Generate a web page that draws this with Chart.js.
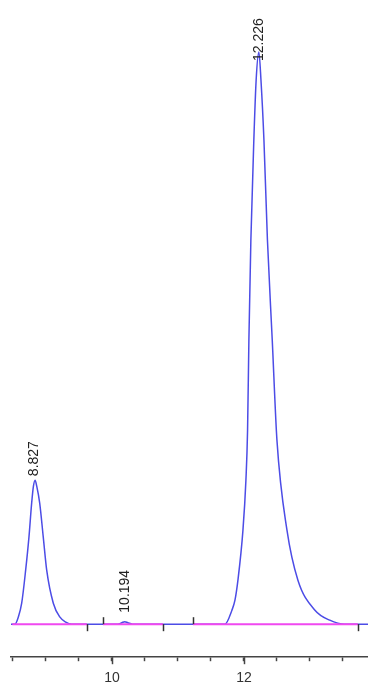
<!DOCTYPE html>
<html>
<head>
<meta charset="utf-8">
<script src="https://cdn.jsdelivr.net/npm/chart.js@4/dist/chart.umd.min.js"></script>
<style>
  html, body { margin: 0; padding: 0; background: #fff; }
  #wrap { width: 368px; height: 687px; position: relative; }
</style>
</head>
<body>
<div id="wrap"><canvas id="chromCanvas"></canvas></div>
<script>
// retention time (min) and detector signal
const times = [
  8.47, 8.53, 8.58, 8.632, 8.692, 8.742, 8.783, 8.81, 8.835, 8.86, 8.905, 8.959, 9.011, 9.111, 9.212, 9.30, 9.39,
  10.09, 10.15, 10.194, 10.24, 10.31,
  11.712, 11.818, 11.864, 11.909, 11.985, 12.03, 12.055, 12.075, 12.105, 12.15, 12.185, 12.226,
  12.258, 12.303, 12.356, 12.429, 12.5, 12.652, 12.818, 13.076, 13.30, 13.53, 13.88
];
const signal = [
  0, 0, 7, 21, 54, 87, 121, 138, 144, 138, 121, 87, 54, 21, 7, 2, 0,
  0, 1.5, 2.5, 1.5, 0,
  0, 14, 24, 44, 94, 144, 194, 284, 384, 484, 544, 572,
  544, 484, 384, 284, 184, 94, 44, 14, 4, 0, 0
];

// peak table
const peakTimes = [8.827, 10.194, 12.226];
const peakHeights = [144, 2.5, 572];
const peakLabels = ['8.827', '10.194', '12.226'];

// integration baselines (start/end) and event marks
const baseStarts = [8.49, 9.864, 11.227];
const baseEnds = [9.621, 10.773, 13.727];
const eventTimes = [9.621, 9.864, 10.773, 11.227, 13.727];
const eventSide = [-1, 1, -1, 1, -1]; // 1 = above baseline, -1 = below

// x axis ticks
const tickValues = [8.5, 9, 9.5, 10, 10.5, 11, 11.5, 12, 12.5, 13, 13.5];
const tickLabels = ['', '', '', '10', '', '', '', '12', '', '', ''];
const majorTicks = [10, 12];

const tracePoints = times.map((t, i) => ({ x: t, y: signal[i] }));
const basePoints = [];
baseStarts.forEach((s, i) => {
  basePoints.push({ x: s, y: 0 }, { x: baseEnds[i], y: 0 }, { x: baseEnds[i], y: null });
});

const annotate = {
  id: 'annotate',
  afterDatasetsDraw(chart) {
    const { ctx, scales: { x, y } } = chart;
    const gaps = [4, 9, -9];
    ctx.save();
    // peak labels, rotated
    ctx.font = '14px Arial, "Liberation Sans", sans-serif';
    ctx.fillStyle = '#222';
    ctx.textAlign = 'left';
    ctx.textBaseline = 'middle';
    peakTimes.forEach((t, i) => {
      const px = x.getPixelForValue(t);
      const py = y.getPixelForValue(peakHeights[i]) - gaps[i];
      ctx.save();
      ctx.translate(px, py);
      ctx.rotate(-Math.PI / 2);
      ctx.fillText(peakLabels[i], 0, 0);
      ctx.restore();
    });
    // event marks on the baseline
    ctx.strokeStyle = '#333';
    ctx.lineWidth = 1.5;
    const y0 = y.getPixelForValue(0);
    eventTimes.forEach((t, i) => {
      const px = Math.round(x.getPixelForValue(t)) + 0.5;
      ctx.beginPath();
      ctx.moveTo(px, y0);
      ctx.lineTo(px, y0 - eventSide[i] * 7);
      ctx.stroke();
    });
    // longer major ticks
    ctx.strokeStyle = '#444';
    majorTicks.forEach(v => {
      const px = Math.round(x.getPixelForValue(v)) + 0.5;
      ctx.beginPath();
      ctx.moveTo(px, x.top);
      ctx.lineTo(px, x.top + 7);
      ctx.stroke();
    });
    ctx.restore();
  }
};

new Chart(document.getElementById('chromCanvas'), {
  type: 'line',
  data: {
    datasets: [
      {
        label: 'baseline',
        data: basePoints,
        borderColor: '#f048f0',
        borderWidth: 2,
        pointRadius: 0,
        spanGaps: false,
        order: 0
      },
      {
        label: 'signal',
        data: tracePoints,
        borderColor: '#4c4ce6',
        borderWidth: 1.5,
        pointRadius: 0,
        cubicInterpolationMode: 'monotone',
        order: 1
      }
    ]
  },
  options: {
    responsive: true,
    maintainAspectRatio: false,
    animation: false,
    layout: { padding: { left: 11, right: 0, top: 0, bottom: -9 } },
    plugins: {
      legend: { display: false },
      tooltip: { enabled: false }
    },
    scales: {
      x: {
        type: 'linear',
        min: 8.47,
        max: 13.88,
        afterBuildTicks: scale => {
          scale.ticks = tickValues.map(v => ({ value: v }));
        },
        ticks: {
          autoSkip: false,
          maxRotation: 0,
          padding: 9,
          color: '#333',
          font: { family: 'Arial, "Liberation Sans", sans-serif', size: 14 },
          callback: (v, i) => tickLabels[i]
        },
        grid: {
          drawOnChartArea: false,
          drawTicks: true,
          tickLength: 4,
          tickWidth: 1.5,
          tickColor: '#444'
        },
        border: { display: true, color: '#444', width: 1.5 }
      },
      y: {
        display: false,
        min: -33,
        max: 624
      }
    }
  },
  plugins: [annotate]
});
</script>
</body>
</html>
